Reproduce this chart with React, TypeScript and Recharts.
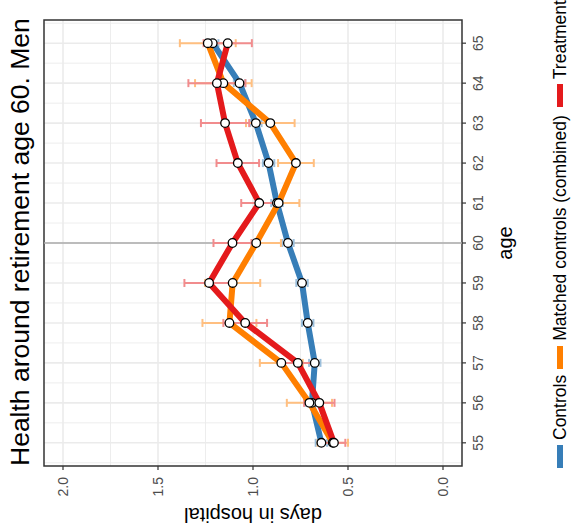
import { LineChart, Line, XAxis, YAxis, CartesianGrid, ErrorBar, ReferenceLine, ReferenceArea, Label } from 'recharts';

// ages on the x axis of the (unrotated) ggplot
const ages = [55, 56, 57, 58, 59, 60, 61, 62, 63, 64, 65];

// mean days in hospital per age
const controls = [0.64, 0.69, 0.675, 0.712, 0.742, 0.816, 0.874, 0.918, 0.985, 1.071, 1.212];
const matched = [0.58, 0.703, 0.851, 1.124, 1.107, 0.983, 0.865, 0.774, 0.909, 1.156, 1.238];
const treatment = [0.574, 0.651, 0.764, 1.041, 1.231, 1.108, 0.967, 1.08, 1.147, 1.19, 1.133];

// half width of the confidence intervals
const controlsErr = [0.03, 0.03, 0.03, 0.03, 0.03, 0.03, 0.03, 0.03, 0.03, 0.03, 0.03];
const matchedErr = [0.08, 0.119, 0.113, 0.142, 0.145, 0.13, 0.109, 0.094, 0.128, 0.149, 0.147];
const treatmentErr = [0.06, 0.08, 0.09, 0.115, 0.13, 0.1, 0.095, 0.112, 0.127, 0.15, 0.127];

const dayTicks = [0, 0.5, 1, 1.5, 2];
const dayMinor = [0.25, 0.75, 1.25, 1.75];
const ageMinor = [54.5, 55.5, 56.5, 57.5, 58.5, 59.5, 60.5, 61.5, 62.5, 63.5, 64.5, 65.5];

const series = [
  { key: 'controls', name: 'Controls', color: '#377EB8', err: '#9BBFDC', gap: 6 },
  { key: 'matched', name: 'Matched controls (combined)', color: '#FF7F00', err: '#FFBF80', gap: 8 },
  { key: 'treatment', name: 'Treatment', color: '#E41A1C', err: '#F18C8D', gap: 0 },
];

const data = ages.map((age, i) => ({
  age,
  controls: controls[i],
  matched: matched[i],
  treatment: treatment[i],
  controlsErr: controlsErr[i],
  matchedErr: matchedErr[i],
  treatmentErr: treatmentErr[i],
}));

const FONT = '"Liberation Sans", Arial, Helvetica, sans-serif';
const W = 528;
const H = 571;
const ageDomain = [54.42, 65.58];
const dayDomain = [-0.1, 2.1];

export default function App() {
  return (
    <div style={{ position: 'absolute', left: 0, top: 0, width: 571, height: 528, overflow: 'hidden', background: '#fff' }}>
      {/* plot drawn upright, then turned a quarter turn like the reference */}
      <div
        style={{
          position: 'absolute',
          left: 0,
          top: 0,
          width: W,
          height: H,
          transformOrigin: '0 0',
          transform: 'translateY(528px) rotate(-90deg)',
          fontFamily: FONT,
        }}
      >
        <div style={{ position: 'absolute', left: 62, top: 7, fontSize: 26.5, lineHeight: 1, color: '#000', whiteSpace: 'nowrap' }}>
          Health around retirement age 60. Men
        </div>

        <LineChart width={W} height={H} data={data} margin={{ top: 44, right: 20, left: 0, bottom: 0 }} style={{ fontFamily: FONT }}>
          <CartesianGrid horizontalValues={dayMinor} verticalValues={ageMinor} stroke="#EBEBEB" strokeWidth={0.9} />
          <CartesianGrid horizontalValues={dayTicks} verticalValues={ages} stroke="#EBEBEB" strokeWidth={1.6} />
          <XAxis
            type="number"
            dataKey="age"
            domain={ageDomain}
            allowDataOverflow
            ticks={ages}
            height={109}
            axisLine={false}
            tickSize={4}
            tickMargin={7}
            tickLine={{ stroke: '#333333', strokeWidth: 1.2 }}
            tick={{ fill: '#4D4D4D', fontSize: 14 }}
          >
            <Label
              content={() => (
                <text x={285} y={505} textAnchor="middle" dominantBaseline="central" fontSize={20} fill="#000">
                  age
                </text>
              )}
            />
          </XAxis>
          <YAxis
            type="number"
            domain={dayDomain}
            allowDataOverflow
            ticks={dayTicks}
            width={62}
            axisLine={false}
            tickSize={4}
            tickMargin={7}
            tickLine={{ stroke: '#333333', strokeWidth: 1.2 }}
            tick={{ fill: '#4D4D4D', fontSize: 14 }}
            tickFormatter={(v: number) => v.toFixed(1)}
          >
            <Label
              content={() => (
                <text x={13} y={253} transform="rotate(-90 13 253)" textAnchor="middle" dominantBaseline="central" fontSize={20} fill="#000">
                  days in hospital
                </text>
              )}
            />
          </YAxis>
          <ReferenceLine x={60} stroke="#ABABAB" strokeWidth={1.6} />

          {series.map((s) => (
            <Line key={s.key + '-err'} dataKey={s.key} stroke="none" dot={false} activeDot={false} isAnimationActive={false}>
              <ErrorBar dataKey={s.key + 'Err'} direction="y" width={4} stroke={s.err} strokeWidth={2} />
            </Line>
          ))}
          {series.map((s) => (
            <Line
              key={s.key}
              type="linear"
              dataKey={s.key}
              stroke={s.color}
              strokeWidth={6}
              strokeLinejoin="round"
              dot={false}
              activeDot={false}
              isAnimationActive={false}
            />
          ))}
          {series.map((s) => (
            <Line
              key={s.key + '-pt'}
              dataKey={s.key}
              stroke="none"
              dot={{ r: 4.3, fill: '#FFFFFF', stroke: '#000000', strokeWidth: 1.3 }}
              activeDot={false}
              isAnimationActive={false}
            />
          ))}
          <ReferenceArea x1={ageDomain[0]} x2={ageDomain[1]} y1={dayDomain[0]} y2={dayDomain[1]} fill="none" stroke="#333333" strokeWidth={1.5} ifOverflow="visible" />
        </LineChart>

        <div style={{ position: 'absolute', left: 60, top: 549, height: 22, display: 'flex', alignItems: 'center', fontSize: 17.5, color: '#000', whiteSpace: 'nowrap' }}>
          {series.map((s) => (
            <div key={s.key} style={{ display: 'flex', alignItems: 'center', marginRight: s.gap }}>
              <div style={{ width: 23, height: 6, background: s.color, marginRight: 5 }} />
              <span>{s.name}</span>
            </div>
          ))}
        </div>
      </div>
    </div>
  );
}
